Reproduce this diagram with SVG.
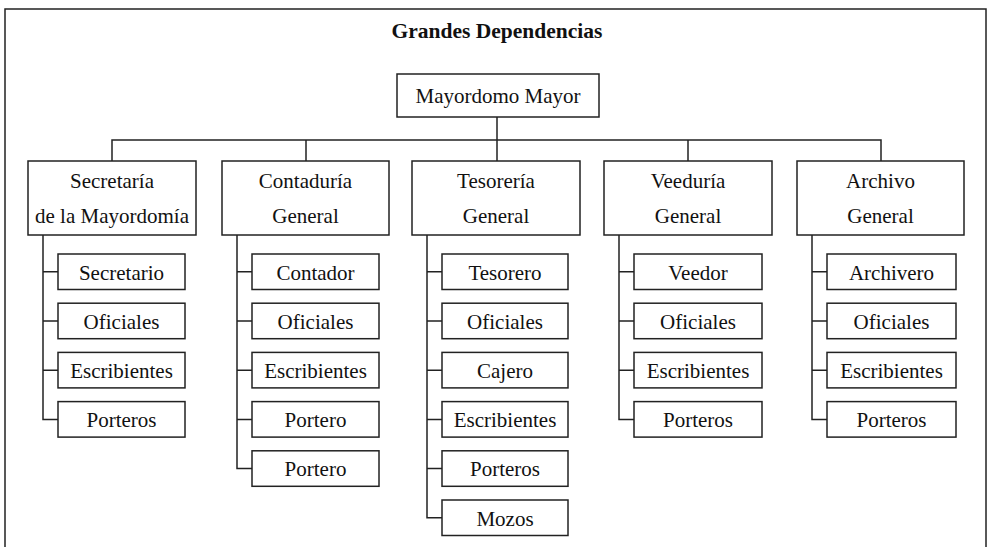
<svg xmlns="http://www.w3.org/2000/svg" width="989" height="547" viewBox="0 0 989 547">
<style>
.b{fill:#fff;stroke:#222;stroke-width:1.5}
.t{font-family:"Liberation Serif","Times New Roman",serif;font-size:21px;fill:#111;text-anchor:middle}
.h{font-weight:bold;font-size:21.5px}
.c{fill:none;stroke:#222;stroke-width:1.5}
</style>
<rect x="5" y="9" width="981" height="560" fill="#fff" stroke="#222" stroke-width="1.5"/>
<text class="t h" x="497" y="38">Grandes Dependencias</text>
<g id="connectors" class="c">
<path d="M497 117V161M112 161V140H881V161M306 140V161M688 140V161"/>
<path d="M43 235V419.4H58M43 271.8H58M43 321H58M43 370.2H58"/>
<path d="M237 235V468.6H252M237 271.8H252M237 321H252M237 370.2H252M237 419.4H252"/>
<path d="M427 235V517.8H442M427 271.8H442M427 321H442M427 370.2H442M427 419.4H442M427 468.6H442"/>
<path d="M619 235V419.4H634M619 271.8H634M619 321H634M619 370.2H634"/>
<path d="M812 235V419.4H827M812 271.8H827M812 321H827M812 370.2H827"/>
</g>
<g id="mayordomo"><rect class="b" x="397" y="74" width="202" height="43"/><text class="t" x="498" y="103">Mayordomo Mayor</text></g>
<g id="secretaria"><rect class="b" x="28" y="161" width="168" height="74"/><text class="t" x="112" y="188">Secretaría</text><text class="t" x="112" y="223">de la Mayordomía</text></g>
<g id="contaduria"><rect class="b" x="222" y="161" width="167" height="74"/><text class="t" x="305.5" y="188">Contaduría</text><text class="t" x="305.5" y="223">General</text></g>
<g id="tesoreria"><rect class="b" x="412" y="161" width="168" height="74"/><text class="t" x="496" y="188">Tesorería</text><text class="t" x="496" y="223">General</text></g>
<g id="veeduria"><rect class="b" x="604" y="161" width="168" height="74"/><text class="t" x="688" y="188">Veeduría</text><text class="t" x="688" y="223">General</text></g>
<g id="archivo"><rect class="b" x="797" y="161" width="167" height="74"/><text class="t" x="880.5" y="188">Archivo</text><text class="t" x="880.5" y="223">General</text></g>

<g id="s1"><rect class="b" x="58" y="254" width="127" height="35.5"/><text class="t" x="121.5" y="279.5">Secretario</text></g>
<g id="s2"><rect class="b" x="58" y="303.2" width="127" height="35.5"/><text class="t" x="121.5" y="328.7">Oficiales</text></g>
<g id="s3"><rect class="b" x="58" y="352.4" width="127" height="35.5"/><text class="t" x="121.5" y="377.9">Escribientes</text></g>
<g id="s4"><rect class="b" x="58" y="401.6" width="127" height="35.5"/><text class="t" x="121.5" y="427.1">Porteros</text></g>

<g id="c1"><rect class="b" x="252" y="254" width="127" height="35.5"/><text class="t" x="315.5" y="279.5">Contador</text></g>
<g id="c2"><rect class="b" x="252" y="303.2" width="127" height="35.5"/><text class="t" x="315.5" y="328.7">Oficiales</text></g>
<g id="c3"><rect class="b" x="252" y="352.4" width="127" height="35.5"/><text class="t" x="315.5" y="377.9">Escribientes</text></g>
<g id="c4"><rect class="b" x="252" y="401.6" width="127" height="35.5"/><text class="t" x="315.5" y="427.1">Portero</text></g>
<g id="c5"><rect class="b" x="252" y="450.8" width="127" height="35.5"/><text class="t" x="315.5" y="476.3">Portero</text></g>

<g id="t1"><rect class="b" x="442" y="254" width="126" height="35.5"/><text class="t" x="505" y="279.5">Tesorero</text></g>
<g id="t2"><rect class="b" x="442" y="303.2" width="126" height="35.5"/><text class="t" x="505" y="328.7">Oficiales</text></g>
<g id="t3"><rect class="b" x="442" y="352.4" width="126" height="35.5"/><text class="t" x="505" y="377.9">Cajero</text></g>
<g id="t4"><rect class="b" x="442" y="401.6" width="126" height="35.5"/><text class="t" x="505" y="427.1">Escribientes</text></g>
<g id="t5"><rect class="b" x="442" y="450.8" width="126" height="35.5"/><text class="t" x="505" y="476.3">Porteros</text></g>
<g id="t6"><rect class="b" x="442" y="500" width="126" height="35.5"/><text class="t" x="505" y="525.5">Mozos</text></g>

<g id="v1"><rect class="b" x="634" y="254" width="128" height="35.5"/><text class="t" x="698" y="279.5">Veedor</text></g>
<g id="v2"><rect class="b" x="634" y="303.2" width="128" height="35.5"/><text class="t" x="698" y="328.7">Oficiales</text></g>
<g id="v3"><rect class="b" x="634" y="352.4" width="128" height="35.5"/><text class="t" x="698" y="377.9">Escribientes</text></g>
<g id="v4"><rect class="b" x="634" y="401.6" width="128" height="35.5"/><text class="t" x="698" y="427.1">Porteros</text></g>

<g id="a1"><rect class="b" x="827" y="254" width="129" height="35.5"/><text class="t" x="891.5" y="279.5">Archivero</text></g>
<g id="a2"><rect class="b" x="827" y="303.2" width="129" height="35.5"/><text class="t" x="891.5" y="328.7">Oficiales</text></g>
<g id="a3"><rect class="b" x="827" y="352.4" width="129" height="35.5"/><text class="t" x="891.5" y="377.9">Escribientes</text></g>
<g id="a4"><rect class="b" x="827" y="401.6" width="129" height="35.5"/><text class="t" x="891.5" y="427.1">Porteros</text></g>
</svg>
